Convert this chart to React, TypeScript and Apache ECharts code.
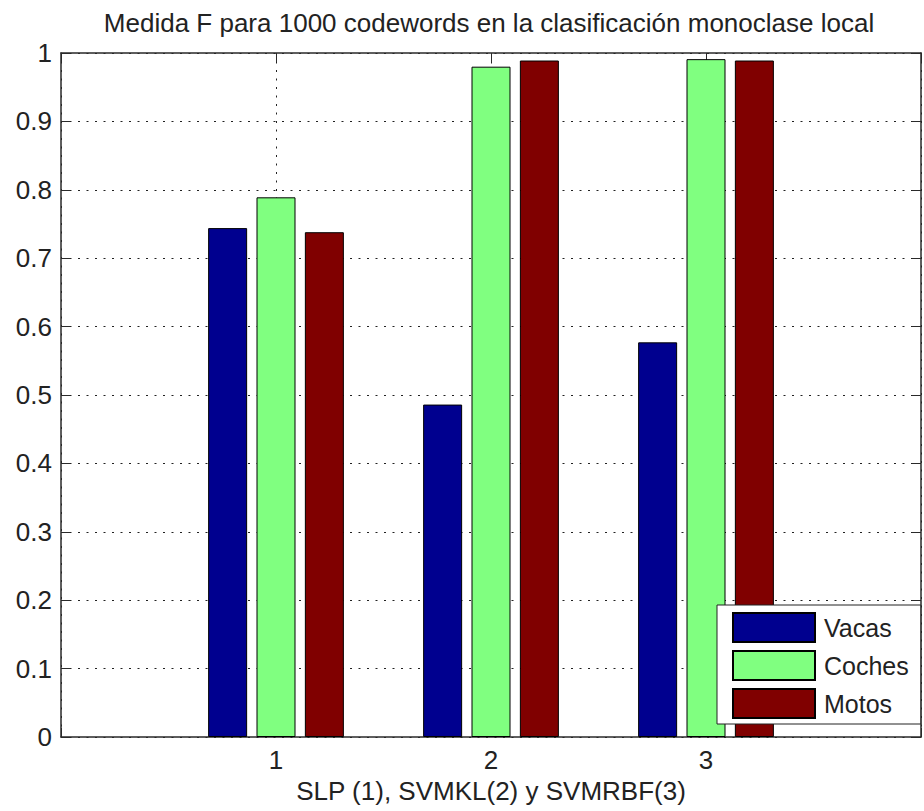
import React, { useEffect, useRef } from "react";
import * as echarts from "echarts";

// Methods on the x axis: SLP (1), SVMKL (2), SVMRBF (3)
const methods = [1, 2, 3];
const xTickLabels = ["1", "2", "3"];
const yTickLabels = ["0", "0.1", "0.2", "0.3", "0.4", "0.5", "0.6", "0.7", "0.8", "0.9", "1"];

// F-measure per class
const vacas = [0.744, 0.486, 0.577];
const coches = [0.789, 0.98, 0.991];
const motos = [0.738, 0.989, 0.989];

const seriesNames = ["Vacas", "Coches", "Motos"];
const seriesColors = ["#00008F", "#80FF80", "#800000"];

const FONT = "'Liberation Sans', Arial, Helvetica, sans-serif";
const TEXT = "#222";
const AXIS = "#2a2a2a";

export default function App() {
  const ref = useRef<HTMLDivElement>(null);

  useEffect(() => {
    document.body.style.margin = "0";
    if (!ref.current) return;
    const chart = echarts.init(ref.current, null, { renderer: "svg" });

    const dotted = { color: "#222", width: 1, type: [2, 6.5] as number[] };
    const seriesData = [vacas, coches, motos];

    chart.setOption({
      animation: false,
      backgroundColor: "#fff",
      textStyle: { fontFamily: FONT },
      grid: { left: 61, top: 53, right: -7, bottom: 74, containLabel: false },
      graphic: [
        {
          type: "text",
          x: 489,
          y: 23,
          style: {
            text: "Medida F para 1000 codewords en la clasificación monoclase local",
            fontFamily: FONT,
            fontSize: 26,
            fill: TEXT,
            textAlign: "center",
            textVerticalAlign: "middle",
          },
        },
      ],
      legend: {
        orient: "vertical",
        left: 717,
        top: 605,
        padding: [7, 12, 5, 15],
        itemWidth: 82,
        itemHeight: 29,
        itemGap: 7,
        selectedMode: false,
        backgroundColor: "#fff",
        borderColor: "#222",
        borderWidth: 1,
        icon: "rect",
        data: seriesNames,
        textStyle: {
          fontFamily: FONT,
          fontSize: 25,
          lineHeight: 29,
          color: TEXT,
          padding: [0, 0, 0, 4],
        },
      },
      xAxis: [
        {
          type: "value",
          position: "bottom",
          min: 0,
          max: 4,
          interval: 1,
          name: "SLP (1), SVMKL(2) y SVMRBF(3)",
          nameLocation: "middle",
          nameGap: 35,
          nameTextStyle: { fontFamily: FONT, fontSize: 26, color: TEXT },
          axisLine: { show: true, onZero: false, lineStyle: { color: AXIS, width: 1.5 } },
          axisTick: { show: true, inside: true, length: 9, lineStyle: { color: AXIS } },
          axisLabel: {
            fontFamily: FONT,
            fontSize: 26,
            color: TEXT,
            margin: 10,
            formatter: (v: number) => {
              const i = methods.indexOf(v);
              return i >= 0 ? xTickLabels[i] : "";
            },
          },
          splitLine: { show: true, lineStyle: dotted },
        },
        {
          type: "value",
          position: "top",
          min: 0,
          max: 4,
          interval: 1,
          axisLine: { show: true, onZero: false, lineStyle: { color: AXIS, width: 1.5 } },
          axisTick: { show: true, inside: true, length: 9, lineStyle: { color: AXIS } },
          axisLabel: { show: false },
          splitLine: { show: false },
        },
      ],
      yAxis: [
        {
          type: "value",
          position: "left",
          min: 0,
          max: 1,
          interval: 0.1,
          axisLine: { show: true, onZero: false, lineStyle: { color: AXIS, width: 1.5 } },
          axisTick: { show: true, inside: true, length: 9, lineStyle: { color: AXIS } },
          axisLabel: {
            fontFamily: FONT,
            fontSize: 26,
            color: TEXT,
            margin: 9,
            formatter: (v: number) => yTickLabels[Math.round(v * 10)] ?? "",
          },
          splitLine: { show: true, lineStyle: dotted },
        },
        {
          type: "value",
          position: "right",
          min: 0,
          max: 1,
          interval: 0.1,
          axisLine: { show: true, onZero: false, lineStyle: { color: AXIS, width: 1.5 } },
          axisTick: { show: true, inside: true, length: 9, lineStyle: { color: AXIS } },
          axisLabel: { show: false },
          splitLine: { show: false },
        },
      ],
      series: seriesNames.map((name, s) => ({
        name,
        type: "bar",
        xAxisIndex: 0,
        yAxisIndex: 0,
        barWidth: 39,
        barGap: "24%",
        itemStyle: { color: seriesColors[s], borderColor: "#000", borderWidth: 1 },
        data: methods.map((m, i) => [m, seriesData[s][i]]),
      })),
    });

    return () => chart.dispose();
  }, []);

  return <div ref={ref} style={{ width: 924, height: 811 }} />;
}
